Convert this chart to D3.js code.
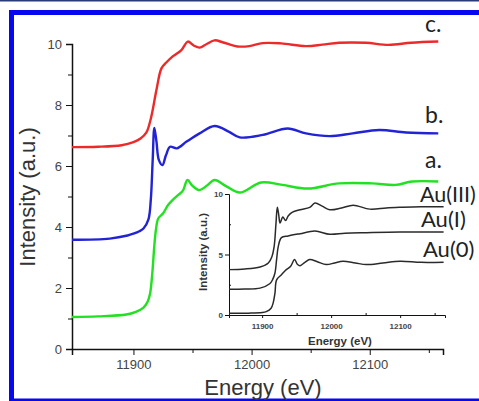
<!DOCTYPE html>
<html>
<head>
<meta charset="utf-8">
<script src="https://cdn.jsdelivr.net/npm/d3@7"></script>
<style>
  body { margin: 0; background: #fff; }
  svg { display: block; }
  .axis path, .axis line { stroke: #111; }
</style>
</head>
<body>
<svg id="chart" width="479" height="401"></svg>
<script>
// main panel: energy (eV) / intensity pairs
const energyC = [11848, 11870, 11890, 11900, 11906, 11911, 11915, 11919.5, 11923.7, 11928, 11933.5, 11940.6, 11946, 11951, 11956, 11962, 11968.7, 11976, 11988, 11998, 12009.5, 12025, 12046, 12060, 12074, 12096.7, 12116, 12135, 12158];
const valuesC = [6.62, 6.63, 6.68, 6.78, 6.9, 7.1, 7.6, 8.5, 9.2, 9.4, 9.6, 9.8, 10.08, 9.95, 9.88, 10.0, 10.12, 10.05, 9.92, 9.93, 10.03, 10.02, 9.93, 9.98, 10.04, 10.04, 9.97, 10.04, 10.08];

const energyB = [11848, 11880, 11895, 11900, 11905, 11908.5, 11912.7, 11914.7, 11916.3, 11917.7, 11919.5, 11921.5, 11924.5, 11927.5, 11931, 11936.7, 11945, 11956, 11968.7, 11981, 11990, 12009.5, 12030.6, 12046, 12066, 12085.6, 12108, 12130.7, 12158];
const valuesB = [3.58, 3.62, 3.72, 3.78, 3.86, 3.95, 4.25, 4.9, 6.2, 7.25, 6.8, 6.2, 6.03, 6.35, 6.63, 6.58, 6.8, 7.07, 7.31, 7.12, 6.94, 7.02, 7.23, 7.07, 6.98, 7.07, 7.18, 7.1, 7.07];

const energyA = [11848, 11870, 11894, 11902, 11908.5, 11912, 11914, 11916, 11917.5, 11919, 11921, 11925, 11929.3, 11933.5, 11938, 11942, 11945.7, 11950, 11956, 11962, 11968.7, 11978, 11990, 12008, 12026, 12047.5, 12074, 12102, 12121.8, 12135.8, 12158];
const valuesA = [1.05, 1.07, 1.13, 1.22, 1.36, 1.55, 1.8, 2.5, 3.3, 3.9, 4.28, 4.44, 4.72, 4.9, 5.05, 5.2, 5.54, 5.35, 5.21, 5.35, 5.54, 5.35, 5.13, 5.46, 5.38, 5.26, 5.43, 5.43, 5.38, 5.49, 5.49];

// inset: reference spectra
const energyAu3 = [11852, 11875, 11897, 11909, 11914, 11917.5, 11920, 11922, 11924, 11926, 11930, 11934, 11938, 11944, 11955, 11969, 11976.6, 11987, 11998, 12015, 12032, 12056, 12080, 12100, 12130, 12163];
const valuesAu3 = [3.75, 3.8, 3.97, 4.3, 4.8, 5.7, 7.5, 8.9, 8.3, 7.6, 8.1, 7.8, 8.2, 8.5, 8.7, 8.9, 9.25, 9.0, 8.7, 8.85, 9.08, 8.75, 8.85, 8.9, 8.95, 8.94];

const energyAu1 = [11852, 11875, 11897, 11911, 11915, 11918.6, 11921, 11923.5, 11928, 11937.8, 11955, 11976.6, 11998, 12020, 12051, 12100, 12163];
const valuesAu1 = [2.12, 2.14, 2.22, 2.58, 2.9, 3.47, 4.6, 5.69, 6.39, 6.53, 6.72, 6.94, 6.67, 6.75, 6.8, 6.86, 6.86];

const energyAu0 = [11852, 11880, 11900, 11906, 11913, 11916, 11918.6, 11921, 11928, 11935, 11941, 11947, 11951, 11955, 11962, 11969, 11980, 11993, 12005, 12017, 12035, 12051, 12075, 12100, 12130, 12163];
const valuesAu0 = [0.14, 0.15, 0.2, 0.28, 0.56, 1.0, 1.8, 2.9, 3.33, 3.75, 4.0, 4.58, 4.2, 4.08, 4.35, 4.58, 4.4, 4.17, 4.3, 4.44, 4.3, 4.17, 4.3, 4.44, 4.35, 4.36];

const yMajor = [0, 2, 4, 6, 8, 10];
const yMinor = [1, 3, 5, 7, 9];
const xMajor = [11900, 12000, 12100];
const xMinor = [11950, 12050, 12150];
const insetYMajor = [0, 5, 10];
const insetYMinor = [2.5, 7.5];

const mainSeries = [
  { name: "c.", e: energyC, v: valuesC, color: "#ec2a2a" },
  { name: "b.", e: energyB, v: valuesB, color: "#2323d6" },
  { name: "a.", e: energyA, v: valuesA, color: "#22e022" }
];
const insetSeries = [
  { name: "Au(III)", e: energyAu3, v: valuesAu3 },
  { name: "Au(I)", e: energyAu1, v: valuesAu1 },
  { name: "Au(0)", e: energyAu0, v: valuesAu0 }
];

const svg = d3.select("#chart");

// frame
svg.append("rect").attr("x", 0).attr("y", 0).attr("width", 479).attr("height", 1.5).attr("fill", "#2b3a78");
svg.append("rect").attr("x", 9).attr("y", 10).attr("width", 470).attr("height", 5).attr("fill", "#0808f0");
svg.append("rect").attr("x", 9).attr("y", 10).attr("width", 5).attr("height", 391).attr("fill", "#0808f0");
svg.append("rect").attr("x", 9).attr("y", 398.5).attr("width", 470).attr("height", 3).attr("fill", "#0808f0");

// ---- main plot ----
const x = d3.scaleLinear().domain([11848, 12162]).range([72, 443]);
const y = d3.scaleLinear().domain([0, 10]).range([349, 44]);

const tickFont = "Liberation Sans, Arial, sans-serif";

svg.append("g").attr("class", "axis").attr("transform", "translate(72,0)")
  .call(d3.axisLeft(y).tickValues(yMajor).tickSize(6).tickPadding(4).tickFormat(d3.format("d")))
  .call(g => g.select(".domain").attr("stroke-width", 1.5))
  .call(g => g.selectAll("text").attr("font-family", tickFont).attr("font-size", 13).attr("fill", "#444"));
svg.append("g").attr("class", "axis").attr("transform", "translate(72,0)")
  .call(d3.axisLeft(y).tickValues(yMinor).tickSize(4).tickFormat(""))
  .call(g => g.select(".domain").remove());

svg.append("g").attr("class", "axis").attr("transform", "translate(0,349)")
  .call(d3.axisBottom(x).tickValues(xMajor).tickSize(6).tickPadding(5).tickFormat(d3.format("d")))
  .call(g => g.select(".domain").attr("stroke-width", 1.5))
  .call(g => g.selectAll("text").attr("font-family", tickFont).attr("font-size", 13).attr("fill", "#444"));
svg.append("g").attr("class", "axis").attr("transform", "translate(0,349)")
  .call(d3.axisBottom(x).tickValues(xMinor).tickSize(4).tickFormat(""))
  .call(g => g.select(".domain").remove());

svg.append("text").attr("x", 263).attr("y", 395).attr("text-anchor", "middle")
  .attr("font-family", tickFont).attr("font-size", 22).attr("fill", "#333").text("Energy (eV)");
svg.append("text").attr("transform", "translate(35,197) rotate(-90)").attr("text-anchor", "middle")
  .attr("font-family", tickFont).attr("font-size", 22).attr("fill", "#333").text("Intensity (a.u.)");

const line = d3.line().x(d => x(d[0])).y(d => y(d[1])).curve(d3.curveCatmullRom.alpha(0.5));
mainSeries.forEach(s => {
  svg.append("path").datum(d3.zip(s.e, s.v)).attr("d", line)
    .attr("fill", "none").attr("stroke", s.color).attr("stroke-width", 2.4).attr("stroke-linejoin", "round");
});

// ---- inset ----
const xi = d3.scaleLinear().domain([11852, 12165]).range([229, 445]);
const yi = d3.scaleLinear().domain([0, 10]).range([315, 194]);

svg.append("g").attr("class", "axis").attr("transform", "translate(229,0)")
  .call(d3.axisLeft(yi).tickValues(insetYMajor).tickSize(4).tickPadding(2).tickFormat(d3.format("d")))
  .call(g => g.selectAll("text").attr("font-family", tickFont).attr("font-size", 8).attr("font-weight", "bold").attr("fill", "#444"));
svg.append("g").attr("class", "axis").attr("transform", "translate(229,0)")
  .call(d3.axisRight(yi).tickValues(insetYMinor).tickSize(2).tickFormat(""))
  .call(g => g.select(".domain").remove());
svg.append("g").attr("class", "axis").attr("transform", "translate(0,315)")
  .call(d3.axisBottom(xi).tickValues(xMajor).tickSize(3).tickPadding(5).tickFormat(d3.format("d")))
  .call(g => g.selectAll("text").attr("font-family", tickFont).attr("font-size", 8).attr("font-weight", "bold").attr("fill", "#444"));
svg.append("g").attr("class", "axis").attr("transform", "translate(0,315)")
  .call(d3.axisTop(xi).tickValues(xMinor).tickSize(2).tickFormat(""))
  .call(g => g.select(".domain").remove());

svg.append("text").attr("x", 340).attr("y", 345).attr("text-anchor", "middle")
  .attr("font-family", tickFont).attr("font-size", 11.5).attr("font-weight", "bold").attr("fill", "#333").text("Energy (eV)");
svg.append("text").attr("transform", "translate(207,252) rotate(-90)").attr("text-anchor", "middle")
  .attr("font-family", tickFont).attr("font-size", 11.5).attr("font-weight", "bold").attr("fill", "#333").text("Intensity (a.u.)");

const lineI = d3.line().x(d => xi(d[0])).y(d => yi(d[1])).curve(d3.curveCatmullRom.alpha(0.5));
insetSeries.forEach(s => {
  svg.append("path").datum(d3.zip(s.e, s.v)).attr("d", lineI)
    .attr("fill", "none").attr("stroke", "#2a2a2a").attr("stroke-width", 1.5).attr("stroke-linejoin", "round");
});

// ---- series labels ----
const labelFont = "Lato, 'Open Sans', sans-serif";
const labels = [
  { t: "c.", x: 425, y: 32, s: 23 },
  { t: "b.", x: 425, y: 123, s: 23 },
  { t: "a.", x: 425, y: 168, s: 23 },
  { t: "Au(III)", x: 420, y: 202, s: 21.5 },
  { t: "Au(I)", x: 421, y: 227, s: 22 },
  { t: "Au(0)", x: 423, y: 257, s: 22 }
];
svg.selectAll("text.lbl").data(labels).join("text").attr("class", "lbl")
  .attr("x", d => d.x).attr("y", d => d.y)
  .attr("font-family", labelFont).attr("font-size", d => d.s).attr("fill", "#222").text(d => d.t);
</script>
</body>
</html>
